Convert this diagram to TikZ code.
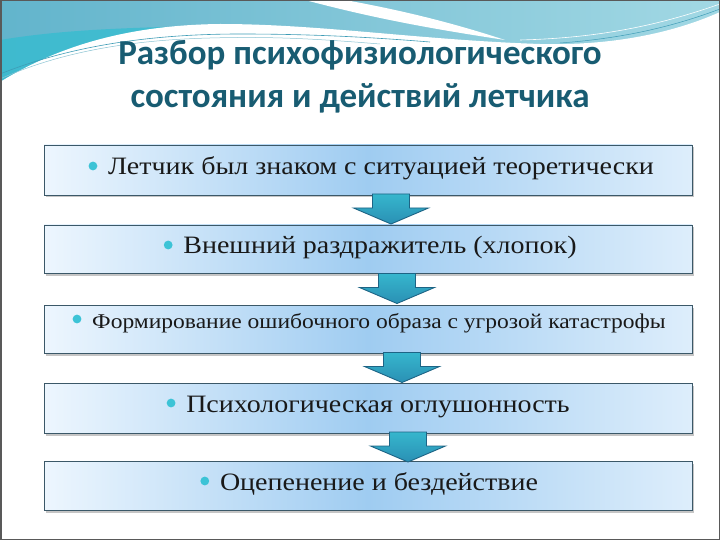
\documentclass[tikz,border=0pt]{standalone}
\usepackage{fontspec}
\setmainfont[FakeStretch=1.12]{Liberation Serif}
\newfontfamily\titlefont{Carlito}
\usetikzlibrary{shadows,calc}
\definecolor{titlec}{HTML}{185C72}
\definecolor{boxedge}{HTML}{3B5868}
\definecolor{boxmid}{HTML}{9FCCF1}
\definecolor{boxside}{HTML}{EDF6FE}
\definecolor{bulletc}{HTML}{3CC3D6}
\definecolor{arrtop}{HTML}{36B6CD}
\definecolor{arrbot}{HTML}{2A90B4}
\definecolor{arredge}{HTML}{1D6485}
\definecolor{hdleft}{HTML}{62B4CC}
\definecolor{hdright}{HTML}{A2D8E4}
\definecolor{hdcyan}{HTML}{30BDD0}
\definecolor{hdline}{HTML}{3E9CB6}
\tikzset{
  flowbox/.style={draw=boxedge, line width=0.9pt, left color=boxside, right color=boxside!80!boxmid, middle color=boxmid,
    minimum width=648pt, inner sep=0pt,
    drop shadow={shadow xshift=1.5pt, shadow yshift=-2.5pt, opacity=0.45}},
  flowtext/.style={inner sep=0pt, anchor=base, text=black!90},
  blockarrow/.style={draw=arredge, line width=0.9pt, top color=arrtop, bottom color=arrbot, line join=miter},
  titletext/.style={font=\titlefont\bfseries\fontsize{35}{40}\selectfont, text=titlec, anchor=base, inner sep=0pt}
}
\newcommand\downblock[1]{%
  \draw[blockarrow] (#1) ++(-18.5,0) -- ++(37,0) -- ++(0,14) -- ++(19,0) -- ++(-37.5,16) -- ++(-37.5,-16) -- ++(19,0) -- cycle;}
\newcommand\bulletdot[1]{\fill[bulletc] ($(#1.base west)+(-15,-9)$) circle (4.4);}
\begin{document}
\begin{tikzpicture}[x=1pt,y=-1pt]
\useasboundingbox (0,0) rectangle (720,540);
\fill[white] (0,0) rectangle (720,540);
% header
\fill[left color=hdleft, right color=hdright] (0,0) rectangle (720,90);
\fill[hdcyan, opacity=0.7] (0,40) .. controls (60,30) and (120,28) .. (200,26) -- (200,60) -- (0,90) -- cycle;
\fill[white] (0,82) .. controls (60,45) and (130,25) .. (220,24) .. controls (320,24) and (420,40) .. (540,44) .. controls (620,46) and (680,30) .. (720,12) -- (720,540) -- (0,540) -- cycle;
\fill[white] (305,0) -- (345,0) .. controls (400,10) and (450,22) .. (505,40) .. controls (440,30) and (380,20) .. (305,0) -- cycle;
\draw[hdline, line width=0.6pt] (0,74) .. controls (70,46) and (150,34) .. (240,34) .. controls (320,34) and (380,38) .. (430,42);
\draw[hdline!60, line width=0.5pt] (0,79) .. controls (60,52) and (130,40) .. (210,38) .. controls (280,36) and (330,40) .. (380,44);
\draw[white, line width=0.6pt] (520,40) .. controls (600,38) and (660,25) .. (720,4);
\draw[hdline, line width=0.5pt] (560,43) .. controls (630,38) and (680,24) .. (720,9);
% frame
\draw[black!65, line width=1.5pt] (0.75,0.75) rectangle (719.25,539.25);
% title
\node[titletext] (h1) at (360,65) {Разбор психофизиологического};
\node[titletext] (h2) at (360,108) {состояния и действий летчика};
% boxes
\node[flowbox, minimum height=50pt] (b1) at (368,170) {};
\node[flowbox, minimum height=48pt] (b2) at (368,249) {};
\node[flowbox, minimum height=48pt] (b3) at (368,329) {};
\node[flowbox, minimum height=50pt] (b4) at (368,408) {};
\node[flowbox, minimum height=49pt] (b5) at (368,485.5) {};
% arrows
\coordinate (a1) at (391,194);
\coordinate (a2) at (397,273.5);
\coordinate (a3) at (402,352.5);
\coordinate (a4) at (408,432);
\downblock{a1}
\downblock{a2}
\downblock{a3}
\downblock{a4}
% texts
\node[flowtext, font=\fontsize{25}{30}\selectfont] (t1) at (381,175) {Летчик был знаком с ситуацией теоретически};
\node[flowtext, font=\fontsize{25}{30}\selectfont] (t2) at (380,254) {Внешний раздражитель (хлопок)};
\node[flowtext, font=\fontsize{21}{26}\selectfont] (t3) at (379,328) {Формирование ошибочного образа с угрозой катастрофы};
\node[flowtext, font=\fontsize{25}{31}\selectfont] (t4) at (378,412) {Психологическая оглушонность};
\node[flowtext, font=\fontsize{25}{30}\selectfont] (t5) at (379,490) {Оцепенение и бездействие};
\bulletdot{t1}
\bulletdot{t2}
\bulletdot{t3}
\bulletdot{t4}
\bulletdot{t5}
\end{tikzpicture}
\end{document}
